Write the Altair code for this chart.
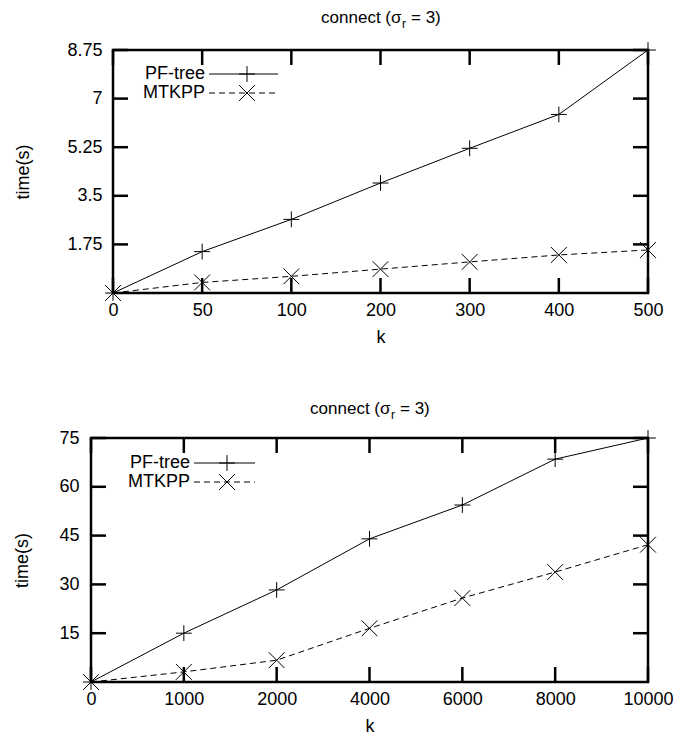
import altair as alt
import pandas as pd

# ---------------- data ----------------
k_top = [0, 50, 100, 200, 300, 400, 500]
pf_top = [0, 1.49, 2.65, 3.96, 5.21, 6.43, 8.75]
mt_top = [0, 0.38, 0.60, 0.86, 1.12, 1.37, 1.55]
yticks_top = [1.75, 3.5, 5.25, 7, 8.75]
ymax_top = 8.75

k_bot = [0, 1000, 2000, 4000, 6000, 8000, 10000]
pf_bot = [0, 15.0, 28.3, 44.0, 54.4, 68.5, 75.0]
mt_bot = [0, 3.1, 6.7, 16.5, 25.8, 33.8, 42.2]
yticks_bot = [15, 30, 45, 60, 75]
ymax_bot = 75

series_names = ["PF-tree", "MTKPP"]
title_parts = ["connect (σ", "r", "= 3)"]
x_title = "k"
y_title = "time(s)"

FONT = "Liberation Sans"
FS = 18
TFS = 17
PLUS = "M-1,0L1,0M0,-1L0,1"
CROSS = "M-1,-1L1,1M-1,1L1,-1"
MSIZE = 250
TICK = 15
W = 557


def one(text):
    return pd.DataFrame({"t": [text]})


def panel(ks, pf, mt, yticks, ymax, H, lay):
    n = len(ks)
    x0 = lay["x0"]
    df = pd.DataFrame({
        "k": ks + ks,
        "time": pf + mt,
        "series": [series_names[0]] * n + [series_names[1]] * n,
    })
    xscale = alt.Scale(type="point", padding=0, domain=ks, range=[x0, W])
    xenc = alt.X("k:O", scale=xscale,
                 axis=alt.Axis(title=x_title, ticks=False, domain=False, grid=False,
                               labelAngle=0, labelPadding=lay["xlp"],
                               titleX=(x0 + W) / 2,
                               titleY=lay["kY"], titleBaseline="middle"))
    yenc = alt.Y("time:Q", scale=alt.Scale(domain=[0, ymax], nice=False, zero=True),
                 axis=alt.Axis(values=yticks, format=".2~f", title=y_title, ticks=False,
                               domain=False, grid=False, labelPadding=lay["ylp"],
                               offset=-x0,
                               titleX=lay["tX"], titleY=H / 2, titleAngle=270,
                               titleAlign="center", titleBaseline="middle"))
    base = alt.Chart(df)
    pf_df = base.transform_filter(alt.datum.series == series_names[0])
    mt_df = base.transform_filter(alt.datum.series == series_names[1])

    pf_line = pf_df.mark_line(color="black", strokeWidth=1).encode(x=xenc, y=yenc)
    mt_line = mt_df.mark_line(color="black", strokeWidth=1, strokeDash=[6, 4]).encode(x=xenc, y=yenc)
    pf_pts = pf_df.mark_point(shape=PLUS, size=MSIZE, filled=False, stroke="black",
                              strokeWidth=1, opacity=1).encode(x=xenc, y=yenc)
    mt_pts = mt_df.mark_point(shape=CROSS, size=MSIZE, filled=False, stroke="black",
                              strokeWidth=1, opacity=1).encode(x=xenc, y=yenc)

    frame = alt.Chart(one("frame")).mark_rect(
        fillOpacity=0, stroke="black", strokeWidth=2.5
    ).encode(x=alt.value(x0), x2=alt.value(W), y=alt.value(0), y2=alt.value(H))

    xt = alt.Chart(pd.DataFrame({"k": ks}))
    xt_bot = xt.mark_rule(color="black", strokeWidth=2.5).encode(
        x=xenc, y=alt.value(H), y2=alt.value(H - TICK))
    xt_top = xt.mark_rule(color="black", strokeWidth=2.5).encode(
        x=xenc, y=alt.value(0), y2=alt.value(TICK))
    yt = alt.Chart(pd.DataFrame({"time": yticks}))
    yt_l = yt.mark_rule(color="black", strokeWidth=2.5).encode(
        y=yenc, x=alt.value(x0), x2=alt.value(x0 + TICK))
    yt_r = yt.mark_rule(color="black", strokeWidth=2.5).encode(
        y=yenc, x=alt.value(W - TICK), x2=alt.value(W))

    # title (with subscript)
    cx = (x0 + W) / 2 - 59
    ty = lay["tY"]
    t1 = alt.Chart(one(title_parts[0])).mark_text(
        align="right", baseline="alphabetic", font=FONT, fontSize=TFS, color="black"
    ).encode(text="t:N", x=alt.value(cx + 80), y=alt.value(ty))
    t2 = alt.Chart(one(title_parts[1])).mark_text(
        align="left", baseline="alphabetic", font=FONT, fontSize=12, color="black"
    ).encode(text="t:N", x=alt.value(cx + 80.5), y=alt.value(ty + 5))
    t3 = alt.Chart(one(title_parts[2])).mark_text(
        align="left", baseline="alphabetic", font=FONT, fontSize=TFS, color="black"
    ).encode(text="t:N", x=alt.value(cx + 89.5), y=alt.value(ty))

    # legend
    lx, l1, l2 = lay["lx"], lay["ly1"], lay["ly2"]
    la, lb, lm = lay["la"], lay["lb"], lay["lm"]
    g1 = alt.Chart(one(series_names[0])).mark_text(
        align="right", baseline="middle", font=FONT, fontSize=FS, color="black"
    ).encode(text="t:N", x=alt.value(lx), y=alt.value(l1))
    g2 = alt.Chart(one(series_names[1])).mark_text(
        align="right", baseline="middle", font=FONT, fontSize=FS, color="black"
    ).encode(text="t:N", x=alt.value(lx), y=alt.value(l2))
    s1 = alt.Chart(one(series_names[0])).mark_rule(color="black", strokeWidth=1).encode(
        x=alt.value(la), x2=alt.value(lb), y=alt.value(l1))
    s2 = alt.Chart(one(series_names[1])).mark_rule(color="black", strokeWidth=1,
                                                   strokeDash=[6, 4]).encode(
        x=alt.value(la), x2=alt.value(lb), y=alt.value(l2))
    m1 = alt.Chart(one(series_names[0])).mark_point(
        shape=PLUS, size=MSIZE, filled=False, stroke="black", strokeWidth=1, opacity=1
    ).encode(x=alt.value(lm), y=alt.value(l1))
    m2 = alt.Chart(one(series_names[1])).mark_point(
        shape=CROSS, size=MSIZE, filled=False, stroke="black", strokeWidth=1, opacity=1
    ).encode(x=alt.value(lm), y=alt.value(l2))

    return alt.layer(
        frame, xt_bot, xt_top, yt_l, yt_r,
        pf_line, mt_line, pf_pts, mt_pts,
        t1, t2, t3, g1, g2, s1, s2, m1, m2,
    ).properties(width=W, height=H)


# positions relative to the common origin (page x = 91)
lay_top = dict(x0=22, xlp=8, kY=44, ylp=11, tX=-90, tY=-27,
               lx=114, ly1=24, ly2=43, la=118, lb=187, lm=156)
lay_bot = dict(x0=0, xlp=8, kY=44, ylp=12, tX=-69, tY=-24,
               lx=99, ly1=25, ly2=44, la=103, lb=164, lm=136)

top = panel(k_top, pf_top, mt_top, yticks_top, ymax_top, 243, lay_top)
bot = panel(k_bot, pf_bot, mt_bot, yticks_bot, ymax_bot, 244, lay_bot)

chart = alt.vconcat(top, bot, spacing=54).configure(
    padding={"left": 13, "top": 9, "right": 0, "bottom": 0},
    background="white",
).configure_view(
    strokeWidth=0
).configure_axis(
    labelFont=FONT, labelFontSize=FS, labelColor="black",
    titleFont=FONT, titleFontSize=FS, titleFontWeight="normal", titleColor="black",
)

chart.save("out.html", embed_options={"renderer": "svg", "actions": False})
